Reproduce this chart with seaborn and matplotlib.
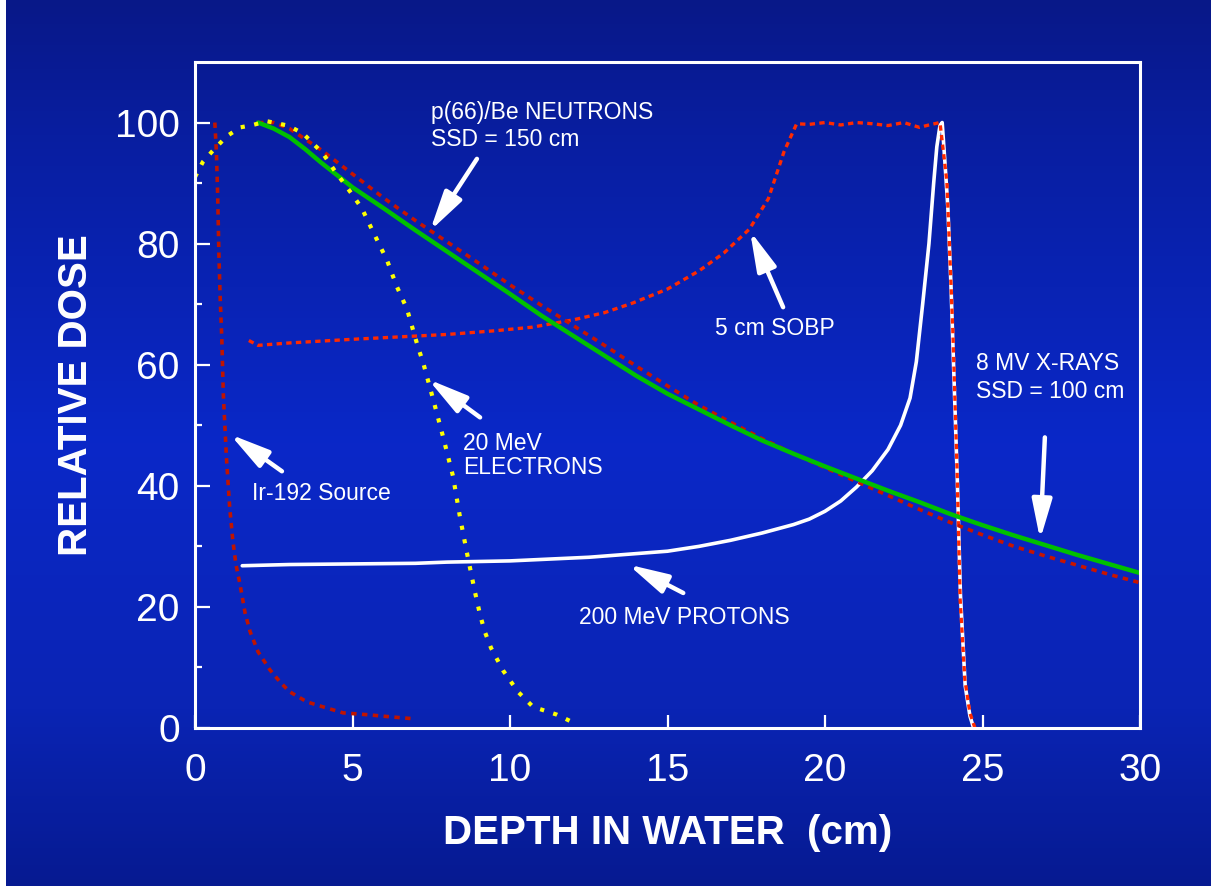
import numpy as np
import pandas as pd
import seaborn as sns
import matplotlib.pyplot as plt
from matplotlib.colors import LinearSegmentedColormap

# Profondità (cm) e dose relativa
ir_x = [0.63, 0.68, 0.72, 0.76, 0.80, 0.85, 0.90, 1.00, 1.10, 1.20, 1.30, 1.43, 1.59, 1.75,
        2.0, 2.38, 2.7, 3.0, 3.56, 4.06, 4.7, 5.46, 6.3, 7.0]
ir_y = [100, 95, 88, 78, 71, 64.5, 55, 44.5, 36.5, 31, 27, 23.7, 19.0, 15.9,
        12.6, 9.6, 7.6, 6.0, 4.3, 3.5, 2.5, 2.2, 1.8, 1.5]

el_x = [0.0, 0.25, 0.54, 1.0, 1.43, 1.75, 2.3, 2.95, 3.43, 4.06, 4.44, 4.98, 5.3, 5.65, 6.1,
        6.4, 6.73, 7.08, 7.24, 7.56, 7.87, 8.19, 8.41, 8.63, 8.89, 9.05, 9.2, 9.4, 9.78,
        10.25, 10.73, 11.49, 11.97]
el_y = [91.0, 93.5, 95.2, 97.7, 99.2, 99.5, 100.2, 99.5, 98.2, 94.9, 92.0, 88.2, 85.8, 82.0, 77.2,
        73.0, 69.2, 62.9, 60.4, 54.3, 48.2, 41.6, 34.9, 29.0, 22.4, 18.7, 15.9, 13.2, 9.5,
        6.0, 3.5, 2.2, 1.0]

neu_x = [2.0, 2.5, 3, 4, 5, 6, 7, 8, 9, 10, 11, 12, 13, 14, 15, 16, 17, 18, 19, 20,
         21, 22, 23, 24, 25, 26, 27, 28, 29, 30]
neu_y = [100, 100, 99, 95.5, 91.5, 87.5, 83.8, 80.3, 76.8, 73.2, 69.8, 66.5, 63.2, 59.8, 56.5,
         53.3, 50.5, 47.8, 45.3, 43.0, 40.7, 38.4, 36.1, 33.9, 31.9, 30.0, 28.4, 26.9, 25.4, 24.0]

xr_x = [2.0, 2.5, 3, 3.5, 4, 5, 6, 7, 8, 9, 10, 11, 12, 13, 14, 15, 16, 17, 18, 19, 20,
        21, 22, 23, 24, 25, 26, 27, 28, 29, 30]
xr_y = [100, 99.0, 97.6, 95.6, 93.4, 89.3, 85.8, 82.2, 78.7, 75.2, 71.7, 68.1, 64.8, 61.5,
        58.2, 55.2, 52.6, 50.0, 47.5, 45.3, 43.2, 41.2, 39.2, 37.3, 35.3, 33.5, 31.8, 30.2,
        28.6, 27.1, 25.6]

sobp_x = [1.71, 2.0, 3, 4, 5, 6.5, 8, 9.5, 10.7, 12, 13, 13.9, 15, 16.0, 16.8, 17.6, 18.2,
          18.7, 19.1, 19.5, 20, 20.5, 21, 21.5, 22, 22.5, 23, 23.3, 23.65, 23.87, 24.06,
          24.19, 24.29, 24.44, 24.6, 24.76]
sobp_y = [64.0, 63.2, 63.6, 63.9, 64.2, 64.6, 65.0, 65.6, 66.2, 67.4, 68.6, 70.2, 72.5, 75.5,
          78.5, 82.4, 87.4, 95.2, 99.8, 99.7, 100, 99.6, 100, 99.8, 99.5, 100, 99.2, 99.6,
          100, 90.2, 65.4, 43.2, 21.2, 8.0, 2.5, 0]

pro_x = [1.5, 3, 5, 7, 8, 10, 12.5, 15, 16, 17, 18, 19, 19.5, 20.0, 20.5, 21.0, 21.5,
         22.0, 22.4, 22.7, 22.9, 23.1, 23.3, 23.45, 23.55, 23.65, 23.72, 23.8, 23.9, 24.0,
         24.1, 24.2, 24.3, 24.45, 24.6, 24.7]
pro_y = [26.8, 27.0, 27.1, 27.2, 27.4, 27.6, 28.2, 29.2, 30.0, 31.0, 32.2, 33.6, 34.5, 35.8,
         37.5, 39.8, 42.5, 46.0, 50.0, 54.5, 60.5, 70.0, 80.0, 90.0, 96.0, 99.5, 100, 94,
         86, 73, 57, 41, 22, 7, 2, 0.3]

sns.set_style("ticks")
plt.rcParams['font.family'] = ['Liberation Sans', 'DejaVu Sans']

fig = plt.figure(figsize=(12.11, 8.86), dpi=100, facecolor='white')

# sfondo blu sfumato
bg = fig.add_axes([6 / 1211, 0, 1 - 6 / 1211, 1], zorder=-1)
blu = LinearSegmentedColormap.from_list('blu', [
    (0.0, (8/255, 24/255, 136/255)),
    (0.15, (8/255, 30/255, 160/255)),
    (0.5, (10/255, 40/255, 200/255)),
    (0.8, (10/255, 36/255, 180/255)),
    (1.0, (6/255, 26/255, 145/255)),
])
bg.imshow(np.linspace(0, 1, 256).reshape(-1, 1), aspect='auto', cmap=blu,
          extent=[0, 1, 0, 1])
bg.axis('off')

ax = fig.add_axes([195 / 1211, (886 - 728) / 886, 945 / 1211, 666 / 886])
ax.set_facecolor('none')

sns.lineplot(x=pro_x, y=pro_y, ax=ax, color='white', linewidth=2.6,
             estimator=None, sort=False)
sns.lineplot(x=sobp_x, y=sobp_y, ax=ax, color='#ff2a00', linewidth=2.4,
             linestyle=(0, (1.6, 1.3)), estimator=None, sort=False)
sns.lineplot(x=neu_x, y=neu_y, ax=ax, color='#c81400', linewidth=2.6,
             linestyle=(0, (1.5, 1.5)), estimator=None, sort=False)
sns.lineplot(x=xr_x, y=xr_y, ax=ax, color='#00c000', linewidth=3.2,
             estimator=None, sort=False)
sns.lineplot(x=el_x, y=el_y, ax=ax, color='#ffff00', linewidth=3.0,
             linestyle=(0, (1.0, 2.3)), estimator=None, sort=False)
sns.lineplot(x=ir_x, y=ir_y, ax=ax, color='#c01400', linewidth=2.6,
             linestyle=(0, (1.5, 1.5)), estimator=None, sort=False)

ax.set_xlim(0, 30)
ax.set_ylim(0, 110)
ax.set_xticks(range(0, 31, 5))
ax.set_yticks(range(0, 101, 20))
ax.set_yticks(range(10, 100, 20), minor=True)
for s in ax.spines.values():
    s.set_visible(True)
    s.set_color('white')
    s.set_linewidth(2.2)
ax.tick_params(axis='x', which='major', direction='in', length=9.5, width=1.6,
               color='white', labelcolor='white', labelsize=28, pad=18)
ax.tick_params(axis='y', which='major', direction='in', length=11, width=1.6,
               color='white', labelcolor='white', labelsize=28, pad=11)
ax.tick_params(axis='y', which='minor', direction='in', length=5, width=1.6,
               color='white')
ax.set_xlabel('DEPTH IN WATER  (cm)', color='white', fontsize=29,
              fontweight='bold', labelpad=18)
ax.set_ylabel('RELATIVE DOSE', color='white', fontsize=29,
              fontweight='bold', labelpad=14)

# etichette e frecce
testi = [
    (7.5, 103.5, 'p(66)/Be NEUTRONS\nSSD = 150 cm', 1.2),
    (16.5, 67.9, '5 cm SOBP', 1.2),
    (24.8, 62.1, '8 MV X-RAYS\nSSD = 100 cm', 1.25),
    (8.5, 48.9, '20 MeV\nELECTRONS', 1.05),
    (1.8, 40.6, 'Ir-192 Source', 1.2),
    (12.2, 20.2, '200 MeV PROTONS', 1.2),
]
for x, y, t, ls in testi:
    ax.text(x, y, t, color='white', fontsize=16.5, ha='left', va='top',
            linespacing=ls)

frecce = [
    ((8.95, 94.0), (7.46, 82.1)),
    ((18.67, 69.5), (17.62, 82.1)),
    ((26.98, 48.0), (26.83, 31.1)),
    ((9.05, 51.3), (7.4, 57.6)),
    ((2.76, 42.4), (1.11, 48.5)),
    ((15.5, 22.3), (13.75, 27.0)),
]
for coda, punta in frecce:
    ax.annotate('', xy=punta, xytext=coda,
                arrowprops=dict(arrowstyle='-|>,head_length=1.2,head_width=0.3',
                                color='white', lw=3.2, mutation_scale=20,
                                shrinkA=0, shrinkB=0))

fig.savefig('out.png', dpi=100, facecolor=fig.get_facecolor())
